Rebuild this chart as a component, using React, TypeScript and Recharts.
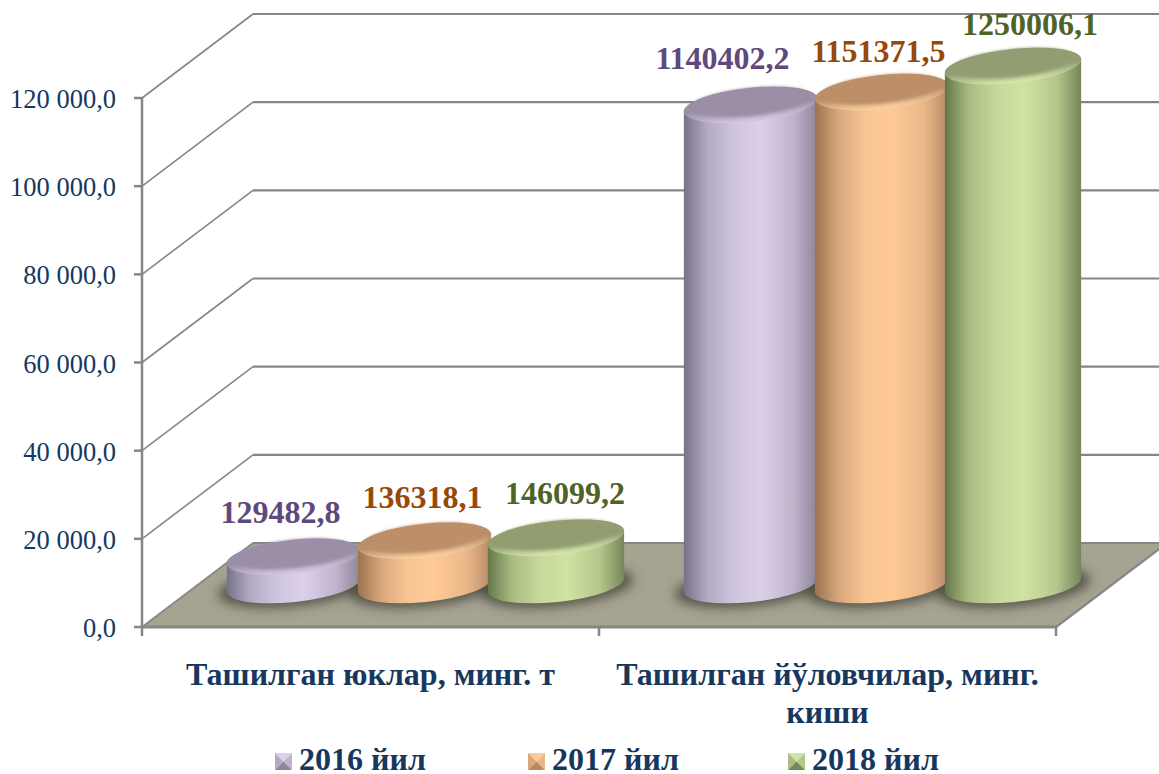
import React from "react";
import { BarChart, Bar, XAxis, YAxis, CartesianGrid, Legend, LabelList } from "recharts";

const categories = ["Ташилган юклар, минг. т", "Ташилган йўловчилар, минг.\nкиши"];
const seriesNames = ["2016 йил", "2017 йил", "2018 йил"];
const heights2016 = [6400, 108900];
const heights2017 = [10000, 111800];
const heights2018 = [10700, 117700];
const labels2016 = ["129482,8", "1140402,2"];
const labels2017 = ["136318,1", "1151371,5"];
const labels2018 = ["146099,2", "1250006,1"];
const yTicks = [0, 20000, 40000, 60000, 80000, 100000, 120000];
const yTickLabels = ["0,0", "20 000,0", "40 000,0", "60 000,0", "80 000,0", "100 000,0", "120 000,0"];

const table = categories.map((c, i) => ({
  name: c,
  a: heights2016[i],
  b: heights2017[i],
  c: heights2018[i],
  la: labels2016[i],
  lb: labels2017[i],
  lc: labels2018[i],
}));

const FONT = "'Liberation Serif', serif";
const NAVY = "#17375e";
const GRID = "#868686";
const DEPTH_X = 111;
const DEPTH_Y = 84;
const BAR_DX = 53.5;
const BAR_DY = -42;
const RY = 17;
const TILT = -6;

const styles = [
  { id: "p", cap: "#9a8fa6", rim: "#d6cae4", text: "#5f497a", dx: 0, dw: 2, lx: [-13, -28], ly: [-45, -47],
    stops: ["#76728a", "#b5aac4", "#d0c5de", "#dccfe9", "#c0b3cc", "#8e8698"] },
  { id: "o", cap: "#bd8f68", rim: "#fbd3a4", text: "#984807", dx: -1, dw: 2, lx: [-2, -3], ly: [-44, -41],
    stops: ["#9a7350", "#d9a87c", "#f8c594", "#fec996", "#eab789", "#b78a66"] },
  { id: "g", cap: "#929e72", rim: "#d8e9ae", text: "#4f6228", dx: -3, dw: 5, lx: [9, 17], ly: [-45, -42],
    stops: ["#65774a", "#a9bd83", "#c6d89b", "#d1e3a2", "#b4c78c", "#75865a"] },
];

function Gradients() {
  return (
    <defs>
      {styles.map((s) => (
        <linearGradient key={s.id} id={"body-" + s.id} x1="0" x2="1" y1="0" y2="0">
          <stop offset="0" stopColor={s.stops[0]} />
          <stop offset="0.18" stopColor={s.stops[1]} />
          <stop offset="0.38" stopColor={s.stops[2]} />
          <stop offset="0.58" stopColor={s.stops[3]} />
          <stop offset="0.82" stopColor={s.stops[4]} />
          <stop offset="1" stopColor={s.stops[5]} />
        </linearGradient>
      ))}
      {styles.map((s) => (
        <linearGradient key={s.id} id={"rim-" + s.id} x1="0" x2="0" y1="0" y2="1">
          <stop offset="0" stopColor={s.cap} />
          <stop offset="0.55" stopColor={s.cap} />
          <stop offset="1" stopColor={s.rim} />
        </linearGradient>
      ))}
      <filter id="soft" x="-30%" y="-60%" width="160%" height="220%">
        <feGaussianBlur stdDeviation="6" />
      </filter>
      <filter id="soft1" x="-10%" y="-20%" width="120%" height="140%">
        <feGaussianBlur stdDeviation="1.5" />
      </filter>
    </defs>
  );
}

function makeShape(si: number) {
  const s = styles[si];
  return function Cylinder(props: any) {
    const { x, y, width, height } = props;
    const w = width + s.dw;
    const left = x + BAR_DX + s.dx;
    const rx = w / 2;
    const cx = left + rx;
    const topY = y + BAR_DY;
    const baseY = y + height + BAR_DY;
    const rad = (TILT * Math.PI) / 180;
    const ox = rx * Math.cos(rad);
    const oy = rx * Math.sin(rad);
    const body = `M${cx - ox} ${topY - oy} L${cx - ox} ${baseY - oy} A${rx} ${RY} ${TILT} 0 0 ${cx + ox} ${baseY + oy} L${cx + ox} ${topY + oy} A${rx} ${RY} ${TILT} 0 0 ${cx - ox} ${topY - oy} Z`;
    const rot = `rotate(${TILT} ${cx} ${topY})`;
    return (
      <g>
        {si === 0 && (
          <g filter="url(#soft)">
            {[0, 1, 2].map((k) => (
              <ellipse
                key={k}
                cx={cx + k * width}
                cy={baseY + 2}
                rx={rx + 9}
                ry={RY + 2}
                transform={`rotate(${TILT} ${cx + k * width} ${baseY})`}
                fill="#45453a"
                opacity={0.85}
              />
            ))}
          </g>
        )}
        <path d={body} fill={`url(#body-${s.id})`} />
        <ellipse cx={cx} cy={topY} rx={rx} ry={RY} transform={rot} fill={`url(#rim-${s.id})`} />
        <ellipse cx={cx} cy={topY - 3} rx={rx - 7} ry={RY - 3} transform={rot} fill={s.cap} filter="url(#soft1)" />
      </g>
    );
  };
}

function makeLabel(si: number, list: string[]) {
  const s = styles[si];
  return function Lbl(props: any) {
    const { x, y, width, index } = props;
    return (
      <text
        x={x + BAR_DX + s.dx + (width + s.dw) / 2 + s.lx[index]}
        y={y + BAR_DY + s.ly[index]}
        textAnchor="middle"
        dominantBaseline="central"
        fontFamily={FONT}
        fontWeight="bold"
        fontSize={32}
        fill={s.text}
      >
        {list[index]}
      </text>
    );
  };
}

function gridLine(props: any) {
  const { x1, x2, y1, y, height, index } = props;
  const isFloor = Math.abs(y1 - (y + height)) < 1;
  return (
    <g key={"g" + index + y1}>
      {isFloor && (
        <polygon
          points={`${x1},${y1} ${x1 + DEPTH_X},${y1 - DEPTH_Y} ${x2 + DEPTH_X},${y1 - DEPTH_Y} ${x2},${y1}`}
          fill="#a6a391"
        />
      )}
      <line x1={x1} y1={y1} x2={x1 + DEPTH_X} y2={y1 - DEPTH_Y} stroke={GRID} strokeWidth={1.6} />
      <line x1={x1 + DEPTH_X} y1={y1 - DEPTH_Y} x2={x2 + DEPTH_X} y2={y1 - DEPTH_Y} stroke={GRID} strokeWidth={2.2} />
      {isFloor && <line x1={x2} y1={y1} x2={x2 + DEPTH_X} y2={y1 - DEPTH_Y} stroke={GRID} strokeWidth={2.2} />}
    </g>
  );
}

function YTick(props: any) {
  const { x, y, payload, index } = props;
  return (
    <g>
      <line x1={x - 2} x2={x + 6} y1={y} y2={y} stroke={GRID} strokeWidth={2.5} />
      <text x={x - 20} y={y + 1} textAnchor="end" dominantBaseline="central" fontFamily={FONT} fontSize={26.5} fill={NAVY}>
        {yTickLabels[yTicks.indexOf(payload.value)] ?? yTickLabels[index]}
      </text>
    </g>
  );
}

function XTick(props: any) {
  const { x, y, payload, index } = props;
  const half = 228.5;
  const lines = String(payload.value).split("\n");
  return (
    <g>
      <line x1={x - half} x2={x - half} y1={y - 8} y2={y + 1} stroke={GRID} strokeWidth={2.5} />
      {index === categories.length - 1 && (
        <line x1={x + half} x2={x + half} y1={y - 8} y2={y + 1} stroke={GRID} strokeWidth={2.5} />
      )}
      {lines.map((t, i) => (
        <text key={i} x={x} y={y + 39 + i * 38} textAnchor="middle" dominantBaseline="central"
          fontFamily={FONT} fontWeight="bold" fontSize={32} fill={NAVY}>
          {t}
        </text>
      ))}
    </g>
  );
}

const legendX = [275, 528, 788];

function LegendMark({ s }: { s: (typeof styles)[number] }) {
  return (
    <svg width={17} height={17} style={{ position: "absolute", left: 0, top: 8 }}>
      <polygon points="0,0 17,0 8.5,8.5" fill={s.stops[3]} />
      <polygon points="0,0 0,17 8.5,8.5" fill={s.stops[1]} />
      <polygon points="17,0 17,17 8.5,8.5" fill={s.stops[4]} />
      <polygon points="0,17 17,17 8.5,8.5" fill={s.stops[5]} />
    </svg>
  );
}

function LegendBox(props: any) {
  const payload = props.payload || [];
  return (
    <div style={{ position: "relative", width: 1159, height: 29 }}>
      {payload.map((e: any, i: number) => (
        <div key={i} style={{ position: "absolute", left: legendX[i], top: 0, height: 29, whiteSpace: "nowrap" }}>
          <LegendMark s={styles[i]} />
          <span style={{ position: "absolute", left: 24, top: 0, lineHeight: "29px", height: 29, fontFamily: FONT, fontWeight: "bold", fontSize: 32, color: NAVY }}>
            {e.value}
          </span>
        </div>
      ))}
    </div>
  );
}

export default function App() {
  return (
    <div style={{ position: "absolute", left: 0, top: 0, width: 1159, height: 774, overflow: "hidden", background: "#fff" }}>
      <BarChart
        width={1159}
        height={774}
        data={table}
        margin={{ top: 98, right: 103, left: 0, bottom: 31 }}
        barSize={132}
        barGap={0}
      >
        <Gradients />
        <CartesianGrid horizontal={gridLine as any} vertical={false} />
        <XAxis
          dataKey="name"
          interval={0}
          height={87}
          axisLine={{ stroke: GRID, strokeWidth: 3 }}
          tickLine={false}
          tick={<XTick />}
        />
        <YAxis
          width={142}
          domain={[0, 120000]}
          ticks={yTicks}
          interval={0}
          axisLine={{ stroke: GRID, strokeWidth: 2.5 }}
          tickLine={false}
          tick={<YTick />}
          tickMargin={0}
        />
        <Legend
          verticalAlign="bottom"
          content={<LegendBox />}
          wrapperStyle={{ position: "absolute", left: 0, top: 745, width: 1159, height: 29 }}
        />
        <Bar dataKey="a" name={seriesNames[0]} shape={makeShape(0)} isAnimationActive={false}>
          <LabelList dataKey="la" content={makeLabel(0, labels2016)} />
        </Bar>
        <Bar dataKey="b" name={seriesNames[1]} shape={makeShape(1)} isAnimationActive={false}>
          <LabelList dataKey="lb" content={makeLabel(1, labels2017)} />
        </Bar>
        <Bar dataKey="c" name={seriesNames[2]} shape={makeShape(2)} isAnimationActive={false}>
          <LabelList dataKey="lc" content={makeLabel(2, labels2018)} />
        </Bar>
      </BarChart>
    </div>
  );
}
